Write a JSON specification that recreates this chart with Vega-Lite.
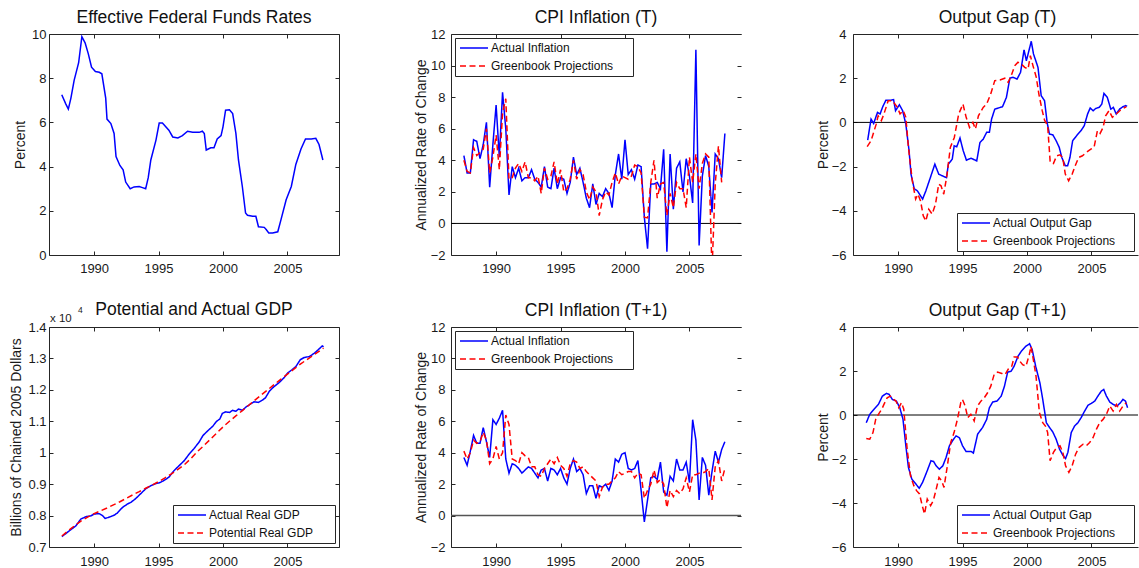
{
"$schema": "https://vega.github.io/schema/vega-lite/v6.json",
"background": "white",
"padding": {"left": 8, "top": 8, "right": 0, "bottom": 0},
"datasets": {
"ffr": [
{"year":1987.49,"value":7.25},{"year":1987.8,"value":6.84},{"year":1988.0,"value":6.6},{"year":1988.2,"value":7.1},{"year":1988.45,"value":7.9},{"year":1988.8,"value":8.7},{"year":1989.05,"value":9.88},{"year":1989.3,"value":9.6},{"year":1989.55,"value":9.1},{"year":1989.8,"value":8.5},{"year":1990.1,"value":8.3},{"year":1990.4,"value":8.27},{"year":1990.6,"value":8.2},{"year":1990.9,"value":7.1},{"year":1991.0,"value":6.15},{"year":1991.3,"value":5.95},{"year":1991.55,"value":5.5},{"year":1991.7,"value":4.45},{"year":1992.0,"value":4.05},{"year":1992.25,"value":3.85},{"year":1992.45,"value":3.3},{"year":1992.8,"value":3.0},{"year":1993.1,"value":3.08},{"year":1993.5,"value":3.1},{"year":1993.75,"value":3.05},{"year":1994.0,"value":3.0},{"year":1994.2,"value":3.5},{"year":1994.4,"value":4.3},{"year":1994.8,"value":5.2},{"year":1995.05,"value":5.97},{"year":1995.3,"value":5.97},{"year":1995.8,"value":5.65},{"year":1996.1,"value":5.34},{"year":1996.5,"value":5.3},{"year":1996.85,"value":5.4},{"year":1997.25,"value":5.6},{"year":1997.65,"value":5.55},{"year":1998.15,"value":5.55},{"year":1998.4,"value":5.6},{"year":1998.55,"value":5.5},{"year":1998.7,"value":4.75},{"year":1999.05,"value":4.85},{"year":1999.3,"value":4.85},{"year":1999.55,"value":5.25},{"year":1999.85,"value":5.4},{"year":2000.0,"value":5.8},{"year":2000.2,"value":6.55},{"year":2000.5,"value":6.57},{"year":2000.75,"value":6.4},{"year":2001.0,"value":5.5},{"year":2001.2,"value":4.3},{"year":2001.5,"value":3.1},{"year":2001.75,"value":1.9},{"year":2001.9,"value":1.8},{"year":2002.3,"value":1.75},{"year":2002.55,"value":1.75},{"year":2002.75,"value":1.28},{"year":2003.2,"value":1.25},{"year":2003.35,"value":1.15},{"year":2003.55,"value":1.0},{"year":2003.85,"value":1.0},{"year":2004.25,"value":1.05},{"year":2004.5,"value":1.6},{"year":2004.9,"value":2.5},{"year":2005.3,"value":3.1},{"year":2005.65,"value":4.1},{"year":2006.05,"value":4.8},{"year":2006.4,"value":5.25},{"year":2006.85,"value":5.25},{"year":2007.2,"value":5.28},{"year":2007.45,"value":5.0},{"year":2007.6,"value":4.65},{"year":2007.75,"value":4.3}
],
"gdp": [
{"series":"Actual Real GDP","year":1987.5,"value":0.733},{"series":"Actual Real GDP","year":1988.06,"value":0.751},{"series":"Actual Real GDP","year":1988.58,"value":0.767},{"series":"Actual Real GDP","year":1988.97,"value":0.789},{"series":"Actual Real GDP","year":1989.4,"value":0.797},{"series":"Actual Real GDP","year":1989.75,"value":0.799},{"series":"Actual Real GDP","year":1990.0,"value":0.805},{"series":"Actual Real GDP","year":1990.4,"value":0.806},{"series":"Actual Real GDP","year":1990.65,"value":0.8},{"series":"Actual Real GDP","year":1990.85,"value":0.791},{"series":"Actual Real GDP","year":1991.1,"value":0.794},{"series":"Actual Real GDP","year":1991.55,"value":0.801},{"series":"Actual Real GDP","year":1991.8,"value":0.808},{"series":"Actual Real GDP","year":1992.2,"value":0.826},{"series":"Actual Real GDP","year":1992.6,"value":0.837},{"series":"Actual Real GDP","year":1992.85,"value":0.842},{"series":"Actual Real GDP","year":1993.2,"value":0.853},{"series":"Actual Real GDP","year":1993.6,"value":0.869},{"series":"Actual Real GDP","year":1994.0,"value":0.885},{"series":"Actual Real GDP","year":1994.4,"value":0.895},{"series":"Actual Real GDP","year":1994.8,"value":0.902},{"series":"Actual Real GDP","year":1995.05,"value":0.904},{"series":"Actual Real GDP","year":1995.4,"value":0.911},{"series":"Actual Real GDP","year":1995.8,"value":0.922},{"series":"Actual Real GDP","year":1996.2,"value":0.943},{"series":"Actual Real GDP","year":1996.6,"value":0.959},{"series":"Actual Real GDP","year":1997.0,"value":0.975},{"series":"Actual Real GDP","year":1997.4,"value":0.997},{"series":"Actual Real GDP","year":1997.75,"value":1.013},{"series":"Actual Real GDP","year":1998.15,"value":1.034},{"series":"Actual Real GDP","year":1998.45,"value":1.055},{"series":"Actual Real GDP","year":1998.8,"value":1.069},{"series":"Actual Real GDP","year":1999.2,"value":1.084},{"series":"Actual Real GDP","year":1999.5,"value":1.1},{"series":"Actual Real GDP","year":1999.75,"value":1.107},{"series":"Actual Real GDP","year":1999.95,"value":1.125},{"series":"Actual Real GDP","year":2000.2,"value":1.13},{"series":"Actual Real GDP","year":2000.5,"value":1.128},{"series":"Actual Real GDP","year":2000.75,"value":1.135},{"series":"Actual Real GDP","year":2001.0,"value":1.132},{"series":"Actual Real GDP","year":2001.2,"value":1.139},{"series":"Actual Real GDP","year":2001.5,"value":1.135},{"series":"Actual Real GDP","year":2001.8,"value":1.146},{"series":"Actual Real GDP","year":2002.1,"value":1.154},{"series":"Actual Real GDP","year":2002.4,"value":1.162},{"series":"Actual Real GDP","year":2002.75,"value":1.16},{"series":"Actual Real GDP","year":2003.05,"value":1.167},{"series":"Actual Real GDP","year":2003.3,"value":1.175},{"series":"Actual Real GDP","year":2003.6,"value":1.196},{"series":"Actual Real GDP","year":2003.95,"value":1.21},{"series":"Actual Real GDP","year":2004.35,"value":1.223},{"series":"Actual Real GDP","year":2004.75,"value":1.239},{"series":"Actual Real GDP","year":2005.0,"value":1.253},{"series":"Actual Real GDP","year":2005.35,"value":1.264},{"series":"Actual Real GDP","year":2005.65,"value":1.274},{"series":"Actual Real GDP","year":2006.0,"value":1.296},{"series":"Actual Real GDP","year":2006.3,"value":1.303},{"series":"Actual Real GDP","year":2006.7,"value":1.306},{"series":"Actual Real GDP","year":2007.1,"value":1.317},{"series":"Actual Real GDP","year":2007.4,"value":1.328},{"series":"Actual Real GDP","year":2007.7,"value":1.34},{"series":"Actual Real GDP","year":2007.8,"value":1.337},
{"series":"Potential Real GDP","year":1987.5,"value":0.735},{"series":"Potential Real GDP","year":1988.0,"value":0.752},{"series":"Potential Real GDP","year":1988.5,"value":0.768},{"series":"Potential Real GDP","year":1989.0,"value":0.783},{"series":"Potential Real GDP","year":1989.5,"value":0.795},{"series":"Potential Real GDP","year":1990.0,"value":0.806},{"series":"Potential Real GDP","year":1990.5,"value":0.815},{"series":"Potential Real GDP","year":1991.0,"value":0.824},{"series":"Potential Real GDP","year":1991.5,"value":0.834},{"series":"Potential Real GDP","year":1992.0,"value":0.844},{"series":"Potential Real GDP","year":1992.5,"value":0.855},{"series":"Potential Real GDP","year":1993.0,"value":0.866},{"series":"Potential Real GDP","year":1993.5,"value":0.876},{"series":"Potential Real GDP","year":1994.0,"value":0.887},{"series":"Potential Real GDP","year":1994.5,"value":0.897},{"series":"Potential Real GDP","year":1995.0,"value":0.908},{"series":"Potential Real GDP","year":1995.5,"value":0.92},{"series":"Potential Real GDP","year":1996.0,"value":0.933},{"series":"Potential Real GDP","year":1996.5,"value":0.947},{"series":"Potential Real GDP","year":1997.0,"value":0.962},{"series":"Potential Real GDP","year":1997.5,"value":0.981},{"series":"Potential Real GDP","year":1998.0,"value":1.003},{"series":"Potential Real GDP","year":1998.5,"value":1.022},{"series":"Potential Real GDP","year":1999.0,"value":1.042},{"series":"Potential Real GDP","year":1999.5,"value":1.062},{"series":"Potential Real GDP","year":2000.0,"value":1.082},{"series":"Potential Real GDP","year":2000.5,"value":1.1},{"series":"Potential Real GDP","year":2001.0,"value":1.117},{"series":"Potential Real GDP","year":2001.5,"value":1.134},{"series":"Potential Real GDP","year":2002.0,"value":1.151},{"series":"Potential Real GDP","year":2002.5,"value":1.168},{"series":"Potential Real GDP","year":2003.0,"value":1.185},{"series":"Potential Real GDP","year":2003.5,"value":1.201},{"series":"Potential Real GDP","year":2004.0,"value":1.218},{"series":"Potential Real GDP","year":2004.5,"value":1.234},{"series":"Potential Real GDP","year":2005.0,"value":1.25},{"series":"Potential Real GDP","year":2005.5,"value":1.266},{"series":"Potential Real GDP","year":2006.0,"value":1.282},{"series":"Potential Real GDP","year":2006.5,"value":1.296},{"series":"Potential Real GDP","year":2007.0,"value":1.31},{"series":"Potential Real GDP","year":2007.5,"value":1.324},{"series":"Potential Real GDP","year":2007.8,"value":1.333}
],
"infT": [
{"series":"Actual Inflation","year":1987.5,"value":4.3},{"series":"Actual Inflation","year":1987.75,"value":3.2},{"series":"Actual Inflation","year":1988.0,"value":3.2},{"series":"Actual Inflation","year":1988.25,"value":5.3},{"series":"Actual Inflation","year":1988.5,"value":5.2},{"series":"Actual Inflation","year":1988.75,"value":4.1},{"series":"Actual Inflation","year":1989.0,"value":5.0},{"series":"Actual Inflation","year":1989.25,"value":6.4},{"series":"Actual Inflation","year":1989.5,"value":2.3},{"series":"Actual Inflation","year":1989.75,"value":5.0},{"series":"Actual Inflation","year":1990.0,"value":7.5},{"series":"Actual Inflation","year":1990.25,"value":4.2},{"series":"Actual Inflation","year":1990.5,"value":8.3},{"series":"Actual Inflation","year":1990.75,"value":6.0},{"series":"Actual Inflation","year":1991.0,"value":1.8},{"series":"Actual Inflation","year":1991.25,"value":3.6},{"series":"Actual Inflation","year":1991.5,"value":2.9},{"series":"Actual Inflation","year":1991.75,"value":3.5},{"series":"Actual Inflation","year":1992.0,"value":2.7},{"series":"Actual Inflation","year":1992.25,"value":2.9},{"series":"Actual Inflation","year":1992.5,"value":2.9},{"series":"Actual Inflation","year":1992.75,"value":3.4},{"series":"Actual Inflation","year":1993.0,"value":2.8},{"series":"Actual Inflation","year":1993.25,"value":2.6},{"series":"Actual Inflation","year":1993.5,"value":2.3},{"series":"Actual Inflation","year":1993.75,"value":3.6},{"series":"Actual Inflation","year":1994.0,"value":2.3},{"series":"Actual Inflation","year":1994.25,"value":2.2},{"series":"Actual Inflation","year":1994.5,"value":3.5},{"series":"Actual Inflation","year":1994.75,"value":2.2},{"series":"Actual Inflation","year":1995.0,"value":2.9},{"series":"Actual Inflation","year":1995.25,"value":2.8},{"series":"Actual Inflation","year":1995.5,"value":1.9},{"series":"Actual Inflation","year":1995.75,"value":2.6},{"series":"Actual Inflation","year":1996.0,"value":4.2},{"series":"Actual Inflation","year":1996.25,"value":3.1},{"series":"Actual Inflation","year":1996.5,"value":3.5},{"series":"Actual Inflation","year":1996.75,"value":2.6},{"series":"Actual Inflation","year":1997.0,"value":1.6},{"series":"Actual Inflation","year":1997.25,"value":1.0},{"series":"Actual Inflation","year":1997.5,"value":2.5},{"series":"Actual Inflation","year":1997.75,"value":1.2},{"series":"Actual Inflation","year":1998.0,"value":1.9},{"series":"Actual Inflation","year":1998.25,"value":1.7},{"series":"Actual Inflation","year":1998.5,"value":2.2},{"series":"Actual Inflation","year":1998.75,"value":1.9},{"series":"Actual Inflation","year":1999.0,"value":1.0},{"series":"Actual Inflation","year":1999.25,"value":3.1},{"series":"Actual Inflation","year":1999.5,"value":4.4},{"series":"Actual Inflation","year":1999.75,"value":2.8},{"series":"Actual Inflation","year":2000.0,"value":5.3},{"series":"Actual Inflation","year":2000.25,"value":3.1},{"series":"Actual Inflation","year":2000.5,"value":3.4},{"series":"Actual Inflation","year":2000.75,"value":2.8},{"series":"Actual Inflation","year":2001.0,"value":3.7},{"series":"Actual Inflation","year":2001.25,"value":3.6},{"series":"Actual Inflation","year":2001.5,"value":0.4},{"series":"Actual Inflation","year":2001.75,"value":-1.6},{"series":"Actual Inflation","year":2002.0,"value":2.5},{"series":"Actual Inflation","year":2002.25,"value":2.5},{"series":"Actual Inflation","year":2002.5,"value":2.6},{"series":"Actual Inflation","year":2002.75,"value":2.2},{"series":"Actual Inflation","year":2003.0,"value":4.7},{"series":"Actual Inflation","year":2003.25,"value":-1.8},{"series":"Actual Inflation","year":2003.5,"value":4.4},{"series":"Actual Inflation","year":2003.75,"value":0.9},{"series":"Actual Inflation","year":2004.0,"value":3.5},{"series":"Actual Inflation","year":2004.25,"value":3.9},{"series":"Actual Inflation","year":2004.5,"value":2.0},{"series":"Actual Inflation","year":2004.75,"value":4.1},{"series":"Actual Inflation","year":2005.0,"value":3.0},{"series":"Actual Inflation","year":2005.25,"value":1.3},{"series":"Actual Inflation","year":2005.5,"value":11.0},{"series":"Actual Inflation","year":2005.75,"value":-1.4},{"series":"Actual Inflation","year":2006.0,"value":3.0},{"series":"Actual Inflation","year":2006.25,"value":4.3},{"series":"Actual Inflation","year":2006.5,"value":3.6},{"series":"Actual Inflation","year":2006.75,"value":0.7},{"series":"Actual Inflation","year":2007.0,"value":4.4},{"series":"Actual Inflation","year":2007.25,"value":4.1},{"series":"Actual Inflation","year":2007.5,"value":2.9},{"series":"Actual Inflation","year":2007.75,"value":5.7},
{"series":"Greenbook Projections","year":1987.5,"value":4.0},{"series":"Greenbook Projections","year":1987.75,"value":3.3},{"series":"Greenbook Projections","year":1988.0,"value":3.2},{"series":"Greenbook Projections","year":1988.25,"value":4.8},{"series":"Greenbook Projections","year":1988.5,"value":4.3},{"series":"Greenbook Projections","year":1988.75,"value":4.5},{"series":"Greenbook Projections","year":1989.0,"value":4.7},{"series":"Greenbook Projections","year":1989.25,"value":6.0},{"series":"Greenbook Projections","year":1989.5,"value":3.2},{"series":"Greenbook Projections","year":1989.75,"value":4.2},{"series":"Greenbook Projections","year":1990.0,"value":5.6},{"series":"Greenbook Projections","year":1990.25,"value":3.4},{"series":"Greenbook Projections","year":1990.5,"value":7.0},{"series":"Greenbook Projections","year":1990.75,"value":7.9},{"series":"Greenbook Projections","year":1991.0,"value":2.8},{"series":"Greenbook Projections","year":1991.25,"value":2.9},{"series":"Greenbook Projections","year":1991.5,"value":3.5},{"series":"Greenbook Projections","year":1991.75,"value":3.8},{"series":"Greenbook Projections","year":1992.0,"value":3.3},{"series":"Greenbook Projections","year":1992.25,"value":3.9},{"series":"Greenbook Projections","year":1992.5,"value":2.9},{"series":"Greenbook Projections","year":1992.75,"value":2.9},{"series":"Greenbook Projections","year":1993.0,"value":2.7},{"series":"Greenbook Projections","year":1993.25,"value":3.0},{"series":"Greenbook Projections","year":1993.5,"value":1.9},{"series":"Greenbook Projections","year":1993.75,"value":3.5},{"series":"Greenbook Projections","year":1994.0,"value":2.8},{"series":"Greenbook Projections","year":1994.25,"value":3.0},{"series":"Greenbook Projections","year":1994.5,"value":3.9},{"series":"Greenbook Projections","year":1994.75,"value":2.5},{"series":"Greenbook Projections","year":1995.0,"value":3.4},{"series":"Greenbook Projections","year":1995.25,"value":2.0},{"series":"Greenbook Projections","year":1995.5,"value":2.2},{"series":"Greenbook Projections","year":1995.75,"value":2.8},{"series":"Greenbook Projections","year":1996.0,"value":4.0},{"series":"Greenbook Projections","year":1996.25,"value":2.8},{"series":"Greenbook Projections","year":1996.5,"value":3.4},{"series":"Greenbook Projections","year":1996.75,"value":3.1},{"series":"Greenbook Projections","year":1997.0,"value":2.0},{"series":"Greenbook Projections","year":1997.25,"value":1.5},{"series":"Greenbook Projections","year":1997.5,"value":2.3},{"series":"Greenbook Projections","year":1997.75,"value":2.0},{"series":"Greenbook Projections","year":1998.0,"value":0.5},{"series":"Greenbook Projections","year":1998.25,"value":1.5},{"series":"Greenbook Projections","year":1998.5,"value":2.0},{"series":"Greenbook Projections","year":1998.75,"value":1.8},{"series":"Greenbook Projections","year":1999.0,"value":2.6},{"series":"Greenbook Projections","year":1999.25,"value":3.2},{"series":"Greenbook Projections","year":1999.5,"value":2.5},{"series":"Greenbook Projections","year":1999.75,"value":3.0},{"series":"Greenbook Projections","year":2000.0,"value":2.9},{"series":"Greenbook Projections","year":2000.25,"value":2.8},{"series":"Greenbook Projections","year":2000.5,"value":3.0},{"series":"Greenbook Projections","year":2000.75,"value":3.7},{"series":"Greenbook Projections","year":2001.0,"value":3.6},{"series":"Greenbook Projections","year":2001.25,"value":3.2},{"series":"Greenbook Projections","year":2001.5,"value":0.4},{"series":"Greenbook Projections","year":2001.75,"value":0.35},{"series":"Greenbook Projections","year":2002.0,"value":2.6},{"series":"Greenbook Projections","year":2002.25,"value":4.0},{"series":"Greenbook Projections","year":2002.5,"value":1.6},{"series":"Greenbook Projections","year":2002.75,"value":2.5},{"series":"Greenbook Projections","year":2003.0,"value":2.6},{"series":"Greenbook Projections","year":2003.25,"value":0.5},{"series":"Greenbook Projections","year":2003.5,"value":1.9},{"series":"Greenbook Projections","year":2003.75,"value":1.0},{"series":"Greenbook Projections","year":2004.0,"value":2.6},{"series":"Greenbook Projections","year":2004.25,"value":2.2},{"series":"Greenbook Projections","year":2004.5,"value":2.2},{"series":"Greenbook Projections","year":2004.75,"value":1.0},{"series":"Greenbook Projections","year":2005.0,"value":4.2},{"series":"Greenbook Projections","year":2005.25,"value":2.6},{"series":"Greenbook Projections","year":2005.5,"value":4.4},{"series":"Greenbook Projections","year":2005.75,"value":2.2},{"series":"Greenbook Projections","year":2006.0,"value":3.8},{"series":"Greenbook Projections","year":2006.25,"value":4.4},{"series":"Greenbook Projections","year":2006.5,"value":4.2},{"series":"Greenbook Projections","year":2006.75,"value":-3.0},{"series":"Greenbook Projections","year":2007.0,"value":2.5},{"series":"Greenbook Projections","year":2007.25,"value":4.9},{"series":"Greenbook Projections","year":2007.5,"value":2.6}
],
"infT1": [
{"series":"Actual Inflation","year":1987.5,"value":3.7},{"series":"Actual Inflation","year":1987.75,"value":3.2},{"series":"Actual Inflation","year":1988.0,"value":4.1},{"series":"Actual Inflation","year":1988.25,"value":5.1},{"series":"Actual Inflation","year":1988.5,"value":4.6},{"series":"Actual Inflation","year":1988.75,"value":4.6},{"series":"Actual Inflation","year":1989.0,"value":5.6},{"series":"Actual Inflation","year":1989.25,"value":4.7},{"series":"Actual Inflation","year":1989.5,"value":3.7},{"series":"Actual Inflation","year":1989.75,"value":6.1},{"series":"Actual Inflation","year":1990.0,"value":5.8},{"series":"Actual Inflation","year":1990.25,"value":6.2},{"series":"Actual Inflation","year":1990.5,"value":6.7},{"series":"Actual Inflation","year":1990.75,"value":3.6},{"series":"Actual Inflation","year":1991.0,"value":2.7},{"series":"Actual Inflation","year":1991.25,"value":3.3},{"series":"Actual Inflation","year":1991.5,"value":3.2},{"series":"Actual Inflation","year":1991.75,"value":3.0},{"series":"Actual Inflation","year":1992.0,"value":2.7},{"series":"Actual Inflation","year":1992.25,"value":2.9},{"series":"Actual Inflation","year":1992.5,"value":3.1},{"series":"Actual Inflation","year":1992.75,"value":3.0},{"series":"Actual Inflation","year":1993.0,"value":2.7},{"series":"Actual Inflation","year":1993.25,"value":2.4},{"series":"Actual Inflation","year":1993.5,"value":2.9},{"series":"Actual Inflation","year":1993.75,"value":3.0},{"series":"Actual Inflation","year":1994.0,"value":2.2},{"series":"Actual Inflation","year":1994.25,"value":3.0},{"series":"Actual Inflation","year":1994.5,"value":2.9},{"series":"Actual Inflation","year":1994.75,"value":2.6},{"series":"Actual Inflation","year":1995.0,"value":3.0},{"series":"Actual Inflation","year":1995.25,"value":2.4},{"series":"Actual Inflation","year":1995.5,"value":2.0},{"series":"Actual Inflation","year":1995.75,"value":3.0},{"series":"Actual Inflation","year":1996.0,"value":3.6},{"series":"Actual Inflation","year":1996.25,"value":2.8},{"series":"Actual Inflation","year":1996.5,"value":3.0},{"series":"Actual Inflation","year":1996.75,"value":2.6},{"series":"Actual Inflation","year":1997.0,"value":1.4},{"series":"Actual Inflation","year":1997.25,"value":1.9},{"series":"Actual Inflation","year":1997.5,"value":1.9},{"series":"Actual Inflation","year":1997.75,"value":1.1},{"series":"Actual Inflation","year":1998.0,"value":1.9},{"series":"Actual Inflation","year":1998.25,"value":1.8},{"series":"Actual Inflation","year":1998.5,"value":2.0},{"series":"Actual Inflation","year":1998.75,"value":1.6},{"series":"Actual Inflation","year":1999.0,"value":2.2},{"series":"Actual Inflation","year":1999.25,"value":3.6},{"series":"Actual Inflation","year":1999.5,"value":3.4},{"series":"Actual Inflation","year":1999.75,"value":3.9},{"series":"Actual Inflation","year":2000.0,"value":4.0},{"series":"Actual Inflation","year":2000.25,"value":3.0},{"series":"Actual Inflation","year":2000.5,"value":2.9},{"series":"Actual Inflation","year":2000.75,"value":3.0},{"series":"Actual Inflation","year":2001.0,"value":3.5},{"series":"Actual Inflation","year":2001.25,"value":1.6},{"series":"Actual Inflation","year":2001.5,"value":-0.4},{"series":"Actual Inflation","year":2001.75,"value":1.0},{"series":"Actual Inflation","year":2002.0,"value":2.4},{"series":"Actual Inflation","year":2002.25,"value":2.5},{"series":"Actual Inflation","year":2002.5,"value":2.3},{"series":"Actual Inflation","year":2002.75,"value":3.4},{"series":"Actual Inflation","year":2003.0,"value":1.5},{"series":"Actual Inflation","year":2003.25,"value":1.3},{"series":"Actual Inflation","year":2003.5,"value":2.5},{"series":"Actual Inflation","year":2003.75,"value":2.2},{"series":"Actual Inflation","year":2004.0,"value":3.6},{"series":"Actual Inflation","year":2004.25,"value":2.9},{"series":"Actual Inflation","year":2004.5,"value":2.9},{"series":"Actual Inflation","year":2004.75,"value":3.4},{"series":"Actual Inflation","year":2005.0,"value":2.1},{"series":"Actual Inflation","year":2005.25,"value":6.1},{"series":"Actual Inflation","year":2005.5,"value":4.8},{"series":"Actual Inflation","year":2005.75,"value":1.0},{"series":"Actual Inflation","year":2006.0,"value":3.7},{"series":"Actual Inflation","year":2006.25,"value":3.2},{"series":"Actual Inflation","year":2006.5,"value":1.3},{"series":"Actual Inflation","year":2006.75,"value":2.8},{"series":"Actual Inflation","year":2007.0,"value":4.1},{"series":"Actual Inflation","year":2007.25,"value":3.4},{"series":"Actual Inflation","year":2007.5,"value":4.2},{"series":"Actual Inflation","year":2007.75,"value":4.7},
{"series":"Greenbook Projections","year":1987.5,"value":4.1},{"series":"Greenbook Projections","year":1987.75,"value":3.6},{"series":"Greenbook Projections","year":1988.0,"value":4.0},{"series":"Greenbook Projections","year":1988.25,"value":4.8},{"series":"Greenbook Projections","year":1988.5,"value":4.6},{"series":"Greenbook Projections","year":1988.75,"value":4.7},{"series":"Greenbook Projections","year":1989.0,"value":5.3},{"series":"Greenbook Projections","year":1989.25,"value":4.8},{"series":"Greenbook Projections","year":1989.5,"value":3.3},{"series":"Greenbook Projections","year":1989.75,"value":3.6},{"series":"Greenbook Projections","year":1990.0,"value":4.4},{"series":"Greenbook Projections","year":1990.25,"value":3.6},{"series":"Greenbook Projections","year":1990.5,"value":4.0},{"series":"Greenbook Projections","year":1990.75,"value":6.4},{"series":"Greenbook Projections","year":1991.0,"value":5.8},{"series":"Greenbook Projections","year":1991.25,"value":3.6},{"series":"Greenbook Projections","year":1991.5,"value":3.5},{"series":"Greenbook Projections","year":1991.75,"value":3.3},{"series":"Greenbook Projections","year":1992.0,"value":4.0},{"series":"Greenbook Projections","year":1992.25,"value":3.8},{"series":"Greenbook Projections","year":1992.5,"value":3.7},{"series":"Greenbook Projections","year":1992.75,"value":3.1},{"series":"Greenbook Projections","year":1993.0,"value":3.1},{"series":"Greenbook Projections","year":1993.25,"value":2.6},{"series":"Greenbook Projections","year":1993.5,"value":2.5},{"series":"Greenbook Projections","year":1993.75,"value":3.0},{"series":"Greenbook Projections","year":1994.0,"value":3.3},{"series":"Greenbook Projections","year":1994.25,"value":3.6},{"series":"Greenbook Projections","year":1994.5,"value":3.3},{"series":"Greenbook Projections","year":1994.75,"value":3.7},{"series":"Greenbook Projections","year":1995.0,"value":3.2},{"series":"Greenbook Projections","year":1995.25,"value":3.0},{"series":"Greenbook Projections","year":1995.5,"value":2.5},{"series":"Greenbook Projections","year":1995.75,"value":3.3},{"series":"Greenbook Projections","year":1996.0,"value":3.5},{"series":"Greenbook Projections","year":1996.25,"value":3.4},{"series":"Greenbook Projections","year":1996.5,"value":3.0},{"series":"Greenbook Projections","year":1996.75,"value":3.1},{"series":"Greenbook Projections","year":1997.0,"value":2.8},{"series":"Greenbook Projections","year":1997.25,"value":2.6},{"series":"Greenbook Projections","year":1997.5,"value":2.4},{"series":"Greenbook Projections","year":1997.75,"value":2.2},{"series":"Greenbook Projections","year":1998.0,"value":1.2},{"series":"Greenbook Projections","year":1998.25,"value":1.8},{"series":"Greenbook Projections","year":1998.5,"value":2.0},{"series":"Greenbook Projections","year":1998.75,"value":2.0},{"series":"Greenbook Projections","year":1999.0,"value":2.2},{"series":"Greenbook Projections","year":1999.25,"value":2.4},{"series":"Greenbook Projections","year":1999.5,"value":2.8},{"series":"Greenbook Projections","year":1999.75,"value":2.6},{"series":"Greenbook Projections","year":2000.0,"value":2.7},{"series":"Greenbook Projections","year":2000.25,"value":2.8},{"series":"Greenbook Projections","year":2000.5,"value":2.8},{"series":"Greenbook Projections","year":2000.75,"value":2.4},{"series":"Greenbook Projections","year":2001.0,"value":2.7},{"series":"Greenbook Projections","year":2001.25,"value":2.6},{"series":"Greenbook Projections","year":2001.5,"value":1.1},{"series":"Greenbook Projections","year":2001.75,"value":1.6},{"series":"Greenbook Projections","year":2002.0,"value":2.0},{"series":"Greenbook Projections","year":2002.25,"value":2.9},{"series":"Greenbook Projections","year":2002.5,"value":2.1},{"series":"Greenbook Projections","year":2002.75,"value":2.3},{"series":"Greenbook Projections","year":2003.0,"value":2.0},{"series":"Greenbook Projections","year":2003.25,"value":0.5},{"series":"Greenbook Projections","year":2003.5,"value":1.6},{"series":"Greenbook Projections","year":2003.75,"value":1.2},{"series":"Greenbook Projections","year":2004.0,"value":1.6},{"series":"Greenbook Projections","year":2004.25,"value":1.4},{"series":"Greenbook Projections","year":2004.5,"value":1.7},{"series":"Greenbook Projections","year":2004.75,"value":2.4},{"series":"Greenbook Projections","year":2005.0,"value":1.5},{"series":"Greenbook Projections","year":2005.25,"value":2.6},{"series":"Greenbook Projections","year":2005.5,"value":2.6},{"series":"Greenbook Projections","year":2005.75,"value":2.7},{"series":"Greenbook Projections","year":2006.0,"value":2.7},{"series":"Greenbook Projections","year":2006.25,"value":2.8},{"series":"Greenbook Projections","year":2006.5,"value":3.0},{"series":"Greenbook Projections","year":2006.75,"value":1.0},{"series":"Greenbook Projections","year":2007.0,"value":3.1},{"series":"Greenbook Projections","year":2007.25,"value":3.5},{"series":"Greenbook Projections","year":2007.5,"value":2.2},{"series":"Greenbook Projections","year":2007.75,"value":3.0}
],
"gapT": [
{"series":"Actual Output Gap","year":1987.64,"value":-0.8},{"series":"Actual Output Gap","year":1987.9,"value":0.15},{"series":"Actual Output Gap","year":1988.1,"value":-0.05},{"series":"Actual Output Gap","year":1988.4,"value":0.45},{"series":"Actual Output Gap","year":1988.6,"value":0.38},{"series":"Actual Output Gap","year":1988.8,"value":0.7},{"series":"Actual Output Gap","year":1989.05,"value":1.0},{"series":"Actual Output Gap","year":1989.4,"value":1.0},{"series":"Actual Output Gap","year":1989.65,"value":1.03},{"series":"Actual Output Gap","year":1989.8,"value":0.53},{"series":"Actual Output Gap","year":1990.1,"value":0.8},{"series":"Actual Output Gap","year":1990.35,"value":0.53},{"series":"Actual Output Gap","year":1990.6,"value":-0.08},{"series":"Actual Output Gap","year":1990.85,"value":-1.28},{"series":"Actual Output Gap","year":1991.0,"value":-2.34},{"series":"Actual Output Gap","year":1991.25,"value":-3.0},{"series":"Actual Output Gap","year":1991.5,"value":-3.1},{"series":"Actual Output Gap","year":1991.9,"value":-3.47},{"series":"Actual Output Gap","year":1992.15,"value":-3.1},{"series":"Actual Output Gap","year":1992.5,"value":-2.5},{"series":"Actual Output Gap","year":1992.85,"value":-1.89},{"series":"Actual Output Gap","year":1993.15,"value":-2.34},{"series":"Actual Output Gap","year":1993.55,"value":-2.45},{"series":"Actual Output Gap","year":1993.75,"value":-2.5},{"series":"Actual Output Gap","year":1993.9,"value":-1.89},{"series":"Actual Output Gap","year":1994.2,"value":-1.66},{"series":"Actual Output Gap","year":1994.35,"value":-1.06},{"series":"Actual Output Gap","year":1994.55,"value":-1.1},{"series":"Actual Output Gap","year":1994.8,"value":-0.71},{"series":"Actual Output Gap","year":1995.05,"value":-1.28},{"series":"Actual Output Gap","year":1995.3,"value":-1.71},{"series":"Actual Output Gap","year":1995.65,"value":-1.62},{"series":"Actual Output Gap","year":1996.1,"value":-1.74},{"series":"Actual Output Gap","year":1996.35,"value":-0.91},{"series":"Actual Output Gap","year":1996.6,"value":-0.76},{"series":"Actual Output Gap","year":1996.87,"value":-0.45},{"series":"Actual Output Gap","year":1997.08,"value":-0.45},{"series":"Actual Output Gap","year":1997.25,"value":0.15},{"series":"Actual Output Gap","year":1997.5,"value":0.6},{"series":"Actual Output Gap","year":1997.77,"value":0.65},{"series":"Actual Output Gap","year":1998.1,"value":0.71},{"series":"Actual Output Gap","year":1998.4,"value":1.13},{"series":"Actual Output Gap","year":1998.67,"value":2.0},{"series":"Actual Output Gap","year":1998.92,"value":2.04},{"series":"Actual Output Gap","year":1999.23,"value":1.96},{"series":"Actual Output Gap","year":1999.5,"value":2.27},{"series":"Actual Output Gap","year":1999.77,"value":3.28},{"series":"Actual Output Gap","year":1999.95,"value":2.79},{"series":"Actual Output Gap","year":2000.15,"value":3.25},{"series":"Actual Output Gap","year":2000.33,"value":3.67},{"series":"Actual Output Gap","year":2000.5,"value":3.1},{"series":"Actual Output Gap","year":2000.72,"value":2.72},{"series":"Actual Output Gap","year":2000.85,"value":2.49},{"series":"Actual Output Gap","year":2001.1,"value":1.21},{"series":"Actual Output Gap","year":2001.36,"value":0.98},{"series":"Actual Output Gap","year":2001.56,"value":0.0},{"series":"Actual Output Gap","year":2001.74,"value":-0.53},{"series":"Actual Output Gap","year":2002.0,"value":-0.56},{"series":"Actual Output Gap","year":2002.26,"value":-0.83},{"series":"Actual Output Gap","year":2002.5,"value":-1.13},{"series":"Actual Output Gap","year":2002.7,"value":-1.59},{"series":"Actual Output Gap","year":2002.97,"value":-1.96},{"series":"Actual Output Gap","year":2003.15,"value":-1.96},{"series":"Actual Output Gap","year":2003.33,"value":-1.59},{"series":"Actual Output Gap","year":2003.54,"value":-0.83},{"series":"Actual Output Gap","year":2003.85,"value":-0.6},{"series":"Actual Output Gap","year":2004.18,"value":-0.38},{"series":"Actual Output Gap","year":2004.44,"value":-0.15},{"series":"Actual Output Gap","year":2004.7,"value":0.38},{"series":"Actual Output Gap","year":2004.9,"value":0.65},{"series":"Actual Output Gap","year":2005.13,"value":0.53},{"series":"Actual Output Gap","year":2005.33,"value":0.63},{"series":"Actual Output Gap","year":2005.6,"value":0.68},{"series":"Actual Output Gap","year":2005.8,"value":0.83},{"series":"Actual Output Gap","year":2005.97,"value":1.31},{"series":"Actual Output Gap","year":2006.23,"value":1.13},{"series":"Actual Output Gap","year":2006.5,"value":0.6},{"series":"Actual Output Gap","year":2006.7,"value":0.68},{"series":"Actual Output Gap","year":2006.92,"value":0.38},{"series":"Actual Output Gap","year":2007.18,"value":0.6},{"series":"Actual Output Gap","year":2007.44,"value":0.71},{"series":"Actual Output Gap","year":2007.64,"value":0.76},{"series":"Actual Output Gap","year":2007.77,"value":0.73},
{"series":"Greenbook Projections","year":1987.6,"value":-1.1},{"series":"Greenbook Projections","year":1987.9,"value":-0.83},{"series":"Greenbook Projections","year":1988.3,"value":-0.08},{"series":"Greenbook Projections","year":1988.45,"value":0.3},{"series":"Greenbook Projections","year":1988.7,"value":0.08},{"series":"Greenbook Projections","year":1988.9,"value":0.38},{"series":"Greenbook Projections","year":1989.23,"value":0.98},{"series":"Greenbook Projections","year":1989.56,"value":0.98},{"series":"Greenbook Projections","year":1989.95,"value":0.68},{"series":"Greenbook Projections","year":1990.15,"value":0.38},{"series":"Greenbook Projections","year":1990.4,"value":0.53},{"series":"Greenbook Projections","year":1990.6,"value":0.23},{"series":"Greenbook Projections","year":1990.8,"value":-1.13},{"series":"Greenbook Projections","year":1991.1,"value":-2.64},{"series":"Greenbook Projections","year":1991.36,"value":-3.47},{"series":"Greenbook Projections","year":1991.54,"value":-3.25},{"series":"Greenbook Projections","year":1991.74,"value":-3.55},{"series":"Greenbook Projections","year":1991.95,"value":-4.23},{"series":"Greenbook Projections","year":1992.15,"value":-4.46},{"series":"Greenbook Projections","year":1992.38,"value":-3.93},{"series":"Greenbook Projections","year":1992.64,"value":-4.15},{"series":"Greenbook Projections","year":1992.9,"value":-3.7},{"series":"Greenbook Projections","year":1993.15,"value":-2.79},{"series":"Greenbook Projections","year":1993.33,"value":-2.87},{"series":"Greenbook Projections","year":1993.54,"value":-3.25},{"series":"Greenbook Projections","year":1993.8,"value":-2.34},{"series":"Greenbook Projections","year":1994.05,"value":-1.13},{"series":"Greenbook Projections","year":1994.36,"value":-0.68},{"series":"Greenbook Projections","year":1994.7,"value":0.38},{"series":"Greenbook Projections","year":1995.03,"value":0.83},{"series":"Greenbook Projections","year":1995.28,"value":0.23},{"series":"Greenbook Projections","year":1995.54,"value":-0.23},{"series":"Greenbook Projections","year":1995.8,"value":0.0},{"series":"Greenbook Projections","year":1996.0,"value":-0.3},{"series":"Greenbook Projections","year":1996.23,"value":0.3},{"series":"Greenbook Projections","year":1996.6,"value":0.68},{"series":"Greenbook Projections","year":1996.87,"value":0.83},{"series":"Greenbook Projections","year":1997.18,"value":1.28},{"series":"Greenbook Projections","year":1997.5,"value":1.89},{"series":"Greenbook Projections","year":1997.9,"value":1.92},{"series":"Greenbook Projections","year":1998.28,"value":2.0},{"series":"Greenbook Projections","year":1998.54,"value":1.81},{"series":"Greenbook Projections","year":1998.8,"value":2.16},{"series":"Greenbook Projections","year":1999.05,"value":2.57},{"series":"Greenbook Projections","year":1999.3,"value":2.72},{"series":"Greenbook Projections","year":1999.56,"value":2.64},{"series":"Greenbook Projections","year":1999.82,"value":2.49},{"series":"Greenbook Projections","year":2000.08,"value":2.42},{"series":"Greenbook Projections","year":2000.26,"value":3.02},{"series":"Greenbook Projections","year":2000.46,"value":2.57},{"series":"Greenbook Projections","year":2000.72,"value":2.04},{"series":"Greenbook Projections","year":2000.92,"value":1.28},{"series":"Greenbook Projections","year":2001.18,"value":0.53},{"series":"Greenbook Projections","year":2001.36,"value":0.1},{"series":"Greenbook Projections","year":2001.6,"value":-0.15},{"series":"Greenbook Projections","year":2001.8,"value":-1.81},{"series":"Greenbook Projections","year":2002.05,"value":-1.86},{"series":"Greenbook Projections","year":2002.3,"value":-1.51},{"series":"Greenbook Projections","year":2002.56,"value":-1.47},{"series":"Greenbook Projections","year":2002.77,"value":-1.59},{"series":"Greenbook Projections","year":2002.97,"value":-2.34},{"series":"Greenbook Projections","year":2003.23,"value":-2.64},{"series":"Greenbook Projections","year":2003.5,"value":-2.34},{"series":"Greenbook Projections","year":2003.74,"value":-1.96},{"series":"Greenbook Projections","year":2004.0,"value":-1.59},{"series":"Greenbook Projections","year":2004.3,"value":-1.51},{"series":"Greenbook Projections","year":2004.6,"value":-1.36},{"series":"Greenbook Projections","year":2004.95,"value":-1.21},{"series":"Greenbook Projections","year":2005.2,"value":-1.13},{"series":"Greenbook Projections","year":2005.46,"value":-0.38},{"series":"Greenbook Projections","year":2005.67,"value":-0.5},{"series":"Greenbook Projections","year":2005.9,"value":-0.23},{"series":"Greenbook Projections","year":2006.1,"value":0.3},{"series":"Greenbook Projections","year":2006.36,"value":0.53},{"series":"Greenbook Projections","year":2006.62,"value":0.23},{"series":"Greenbook Projections","year":2006.92,"value":0.38},{"series":"Greenbook Projections","year":2007.26,"value":0.56},{"series":"Greenbook Projections","year":2007.5,"value":0.65},{"series":"Greenbook Projections","year":2007.7,"value":0.71}
],
"gapT1": [
{"series":"Actual Output Gap","year":1987.53,"value":-0.35},{"series":"Actual Output Gap","year":1987.8,"value":0.03},{"series":"Actual Output Gap","year":1988.13,"value":0.26},{"series":"Actual Output Gap","year":1988.47,"value":0.48},{"series":"Actual Output Gap","year":1988.78,"value":0.86},{"series":"Actual Output Gap","year":1989.1,"value":0.98},{"series":"Actual Output Gap","year":1989.3,"value":0.94},{"series":"Actual Output Gap","year":1989.55,"value":0.71},{"series":"Actual Output Gap","year":1989.87,"value":0.63},{"series":"Actual Output Gap","year":1990.13,"value":0.33},{"series":"Actual Output Gap","year":1990.38,"value":-0.2},{"series":"Actual Output Gap","year":1990.6,"value":-1.4},{"series":"Actual Output Gap","year":1990.8,"value":-2.38},{"series":"Actual Output Gap","year":1991.06,"value":-2.91},{"series":"Actual Output Gap","year":1991.38,"value":-3.14},{"series":"Actual Output Gap","year":1991.64,"value":-3.33},{"series":"Actual Output Gap","year":1991.9,"value":-3.06},{"series":"Actual Output Gap","year":1992.26,"value":-2.53},{"series":"Actual Output Gap","year":1992.55,"value":-2.08},{"series":"Actual Output Gap","year":1992.75,"value":-2.11},{"series":"Actual Output Gap","year":1992.95,"value":-2.31},{"series":"Actual Output Gap","year":1993.2,"value":-2.46},{"series":"Actual Output Gap","year":1993.47,"value":-2.31},{"series":"Actual Output Gap","year":1993.72,"value":-1.93},{"series":"Actual Output Gap","year":1993.98,"value":-1.4},{"series":"Actual Output Gap","year":1994.3,"value":-1.1},{"series":"Actual Output Gap","year":1994.5,"value":-0.95},{"series":"Actual Output Gap","year":1994.75,"value":-1.03},{"series":"Actual Output Gap","year":1995.0,"value":-1.4},{"series":"Actual Output Gap","year":1995.27,"value":-1.66},{"series":"Actual Output Gap","year":1995.66,"value":-1.66},{"series":"Actual Output Gap","year":1995.84,"value":-1.73},{"series":"Actual Output Gap","year":1996.17,"value":-0.87},{"series":"Actual Output Gap","year":1996.55,"value":-0.57},{"series":"Actual Output Gap","year":1996.87,"value":-0.2},{"series":"Actual Output Gap","year":1997.08,"value":0.33},{"series":"Actual Output Gap","year":1997.34,"value":0.59},{"series":"Actual Output Gap","year":1997.66,"value":0.63},{"series":"Actual Output Gap","year":1998.0,"value":0.86},{"series":"Actual Output Gap","year":1998.25,"value":1.31},{"series":"Actual Output Gap","year":1998.5,"value":1.95},{"series":"Actual Output Gap","year":1998.77,"value":1.99},{"series":"Actual Output Gap","year":1999.0,"value":2.22},{"series":"Actual Output Gap","year":1999.3,"value":2.67},{"series":"Actual Output Gap","year":1999.56,"value":2.9},{"series":"Actual Output Gap","year":1999.9,"value":3.12},{"series":"Actual Output Gap","year":2000.2,"value":3.24},{"series":"Actual Output Gap","year":2000.4,"value":2.97},{"series":"Actual Output Gap","year":2000.67,"value":2.22},{"series":"Actual Output Gap","year":2001.0,"value":1.46},{"series":"Actual Output Gap","year":2001.22,"value":0.71},{"series":"Actual Output Gap","year":2001.5,"value":-0.35},{"series":"Actual Output Gap","year":2001.75,"value":-0.57},{"series":"Actual Output Gap","year":2002.0,"value":-0.77},{"series":"Actual Output Gap","year":2002.26,"value":-1.1},{"series":"Actual Output Gap","year":2002.52,"value":-1.55},{"series":"Actual Output Gap","year":2002.78,"value":-1.83},{"series":"Actual Output Gap","year":2002.99,"value":-1.98},{"series":"Actual Output Gap","year":2003.17,"value":-1.7},{"series":"Actual Output Gap","year":2003.43,"value":-0.8},{"series":"Actual Output Gap","year":2003.69,"value":-0.5},{"series":"Actual Output Gap","year":2003.95,"value":-0.35},{"series":"Actual Output Gap","year":2004.2,"value":-0.12},{"series":"Actual Output Gap","year":2004.47,"value":0.18},{"series":"Actual Output Gap","year":2004.73,"value":0.44},{"series":"Actual Output Gap","year":2004.99,"value":0.53},{"series":"Actual Output Gap","year":2005.25,"value":0.63},{"series":"Actual Output Gap","year":2005.5,"value":0.86},{"series":"Actual Output Gap","year":2005.77,"value":1.09},{"series":"Actual Output Gap","year":2005.95,"value":1.16},{"series":"Actual Output Gap","year":2006.16,"value":0.86},{"series":"Actual Output Gap","year":2006.42,"value":0.59},{"series":"Actual Output Gap","year":2006.68,"value":0.48},{"series":"Actual Output Gap","year":2006.99,"value":0.41},{"series":"Actual Output Gap","year":2007.25,"value":0.56},{"series":"Actual Output Gap","year":2007.45,"value":0.71},{"series":"Actual Output Gap","year":2007.64,"value":0.63},{"series":"Actual Output Gap","year":2007.8,"value":0.33},
{"series":"Greenbook Projections","year":1987.53,"value":-1.07},{"series":"Greenbook Projections","year":1987.8,"value":-1.1},{"series":"Greenbook Projections","year":1988.05,"value":-0.8},{"series":"Greenbook Projections","year":1988.26,"value":-0.2},{"series":"Greenbook Projections","year":1988.47,"value":0.03},{"series":"Greenbook Projections","year":1988.73,"value":0.26},{"series":"Greenbook Projections","year":1988.9,"value":0.48},{"series":"Greenbook Projections","year":1989.15,"value":0.78},{"series":"Greenbook Projections","year":1989.4,"value":0.86},{"series":"Greenbook Projections","year":1989.66,"value":0.71},{"series":"Greenbook Projections","year":1989.84,"value":0.63},{"series":"Greenbook Projections","year":1990.05,"value":0.33},{"series":"Greenbook Projections","year":1990.26,"value":0.56},{"series":"Greenbook Projections","year":1990.44,"value":0.26},{"series":"Greenbook Projections","year":1990.7,"value":-1.55},{"series":"Greenbook Projections","year":1990.96,"value":-2.76},{"series":"Greenbook Projections","year":1991.22,"value":-3.21},{"series":"Greenbook Projections","year":1991.43,"value":-3.44},{"series":"Greenbook Projections","year":1991.66,"value":-3.59},{"series":"Greenbook Projections","year":1991.87,"value":-4.12},{"series":"Greenbook Projections","year":1992.05,"value":-4.5},{"series":"Greenbook Projections","year":1992.26,"value":-3.82},{"series":"Greenbook Projections","year":1992.52,"value":-4.12},{"series":"Greenbook Projections","year":1992.73,"value":-3.89},{"series":"Greenbook Projections","year":1992.96,"value":-3.36},{"series":"Greenbook Projections","year":1993.17,"value":-2.84},{"series":"Greenbook Projections","year":1993.38,"value":-2.99},{"series":"Greenbook Projections","year":1993.56,"value":-3.29},{"series":"Greenbook Projections","year":1993.82,"value":-2.31},{"series":"Greenbook Projections","year":1994.08,"value":-1.25},{"series":"Greenbook Projections","year":1994.34,"value":-0.8},{"series":"Greenbook Projections","year":1994.6,"value":-0.2},{"series":"Greenbook Projections","year":1994.86,"value":0.56},{"series":"Greenbook Projections","year":1994.99,"value":0.71},{"series":"Greenbook Projections","year":1995.2,"value":0.41},{"series":"Greenbook Projections","year":1995.4,"value":-0.12},{"series":"Greenbook Projections","year":1995.64,"value":0.03},{"series":"Greenbook Projections","year":1995.9,"value":-0.27},{"series":"Greenbook Projections","year":1996.16,"value":0.41},{"series":"Greenbook Projections","year":1996.42,"value":0.63},{"series":"Greenbook Projections","year":1996.68,"value":0.78},{"series":"Greenbook Projections","year":1996.94,"value":1.01},{"series":"Greenbook Projections","year":1997.19,"value":1.31},{"series":"Greenbook Projections","year":1997.45,"value":1.84},{"series":"Greenbook Projections","year":1997.71,"value":1.95},{"series":"Greenbook Projections","year":1998.05,"value":1.89},{"series":"Greenbook Projections","year":1998.3,"value":1.84},{"series":"Greenbook Projections","year":1998.56,"value":2.1},{"series":"Greenbook Projections","year":1998.82,"value":2.22},{"series":"Greenbook Projections","year":1999.0,"value":2.64},{"series":"Greenbook Projections","year":1999.27,"value":2.64},{"series":"Greenbook Projections","year":1999.45,"value":2.44},{"series":"Greenbook Projections","year":1999.66,"value":2.29},{"series":"Greenbook Projections","year":1999.92,"value":2.22},{"series":"Greenbook Projections","year":2000.18,"value":2.75},{"series":"Greenbook Projections","year":2000.31,"value":3.12},{"series":"Greenbook Projections","year":2000.49,"value":2.52},{"series":"Greenbook Projections","year":2000.7,"value":1.76},{"series":"Greenbook Projections","year":2000.96,"value":0.11},{"series":"Greenbook Projections","year":2001.22,"value":-0.35},{"series":"Greenbook Projections","year":2001.43,"value":-0.5},{"series":"Greenbook Projections","year":2001.6,"value":-0.8},{"series":"Greenbook Projections","year":2001.79,"value":-2.08},{"series":"Greenbook Projections","year":2002.05,"value":-1.7},{"series":"Greenbook Projections","year":2002.3,"value":-1.48},{"series":"Greenbook Projections","year":2002.56,"value":-1.4},{"series":"Greenbook Projections","year":2002.78,"value":-1.7},{"series":"Greenbook Projections","year":2002.99,"value":-2.31},{"series":"Greenbook Projections","year":2003.25,"value":-2.61},{"series":"Greenbook Projections","year":2003.5,"value":-2.31},{"series":"Greenbook Projections","year":2003.77,"value":-1.78},{"series":"Greenbook Projections","year":2004.03,"value":-1.48},{"series":"Greenbook Projections","year":2004.34,"value":-1.33},{"series":"Greenbook Projections","year":2004.6,"value":-1.4},{"series":"Greenbook Projections","year":2004.86,"value":-1.25},{"series":"Greenbook Projections","year":2005.12,"value":-1.03},{"series":"Greenbook Projections","year":2005.38,"value":-0.65},{"series":"Greenbook Projections","year":2005.64,"value":-0.35},{"series":"Greenbook Projections","year":2005.9,"value":-0.2},{"series":"Greenbook Projections","year":2006.16,"value":0.03},{"series":"Greenbook Projections","year":2006.42,"value":0.41},{"series":"Greenbook Projections","year":2006.68,"value":0.18},{"series":"Greenbook Projections","year":2006.94,"value":0.48},{"series":"Greenbook Projections","year":2007.19,"value":0.18},{"series":"Greenbook Projections","year":2007.45,"value":0.41},{"series":"Greenbook Projections","year":2007.71,"value":0.56}
]
},
"columns": 3,
"spacing": {"row": 72, "column": 112},
"bounds": "flush",
"concat": [
{
"width": 290, "height": 221,
"title": {"text": "Effective Federal Funds Rates"},
"data": {"name": "ffr"},
"layer": [
{"mark": {"type": "line", "color": "#0000ff", "strokeWidth": 1.5, "clip": true},
 "encoding": {
  "x": {"field": "year", "type": "quantitative", "scale": {"domain": [1986.5, 2009], "nice": false, "zero": false}, "axis": {"orient": "bottom", "values": [1990, 1995, 2000, 2005], "format": "d", "title": null, "labelPadding": 11}},
  "y": {"field": "value", "type": "quantitative", "scale": {"domain": [0, 10], "nice": false, "zero": false}, "axis": {"orient": "left", "values": [0, 2, 4, 6, 8, 10], "title": "Percent", "titleX": -29, "titleBaseline": "middle", "labelPadding": 7}}
 }},
{"mark": {"type": "point", "opacity": 0},
 "encoding": {
  "x": {"field": "year", "type": "quantitative", "scale": {"domain": [1986.5, 2009], "nice": false, "zero": false}, "axis": {"orient": "top", "values": [1990, 1995, 2000, 2005], "labels": false, "title": null}},
  "y": {"field": "value", "type": "quantitative", "scale": {"domain": [0, 10], "nice": false, "zero": false}, "axis": {"orient": "right", "values": [0, 2, 4, 6, 8, 10], "labels": false, "title": null}}
 }}
],
"resolve": {"axis": {"x": "independent", "y": "independent"}}
},
{
"width": 290, "height": 221,
"title": {"text": "CPI Inflation (T)"},
"data": {"name": "infT"},
"layer": [
{"data": {"values": [{"z": 0}]},
 "mark": {"type": "rule", "color": "#000000", "strokeWidth": 1},
 "encoding": {"y": {"field": "z", "type": "quantitative", "scale": {"domain": [-2, 12], "nice": false, "zero": false}, "axis": null}}},
{"mark": {"type": "line", "strokeWidth": 1.5, "clip": true},
 "encoding": {
  "x": {"field": "year", "type": "quantitative", "scale": {"domain": [1986.5, 2009], "nice": false, "zero": false}, "axis": {"orient": "bottom", "values": [1990, 1995, 2000, 2005], "format": "d", "title": null, "labelPadding": 11}},
  "y": {"field": "value", "type": "quantitative", "scale": {"domain": [-2, 12], "nice": false, "zero": false}, "axis": {"orient": "left", "values": [-2, 0, 2, 4, 6, 8, 10, 12], "title": "Annualized Rate of Change", "titleX": -30, "titleBaseline": "middle", "labelPadding": 10}},
  "color": {"field": "series", "type": "nominal", "scale": {"domain": ["Actual Inflation", "Greenbook Projections"], "range": ["#0000ff", "#ff0000"]}, "legend": {"orient": "top-left", "offset": 4, "title": "\u00a0", "titleOrient": "right", "titlePadding": 16}},
  "strokeDash": {"field": "series", "type": "nominal", "scale": {"domain": ["Actual Inflation", "Greenbook Projections"], "range": [[1, 0], [6, 3.5]]}, "legend": {"orient": "top-left", "offset": 4, "title": "\u00a0", "titleOrient": "right", "titlePadding": 16}}
 }},
{"mark": {"type": "point", "opacity": 0},
 "encoding": {
  "x": {"field": "year", "type": "quantitative", "scale": {"domain": [1986.5, 2009], "nice": false, "zero": false}, "axis": {"orient": "top", "values": [1990, 1995, 2000, 2005], "labels": false, "title": null}},
  "y": {"field": "value", "type": "quantitative", "scale": {"domain": [-2, 12], "nice": false, "zero": false}, "axis": {"orient": "right", "values": [-2, 0, 2, 4, 6, 8, 10, 12], "labels": false, "title": null, "domain": false}}
 }}
],
"resolve": {"axis": {"x": "independent", "y": "independent"}}
},
{
"width": 285, "height": 221,
"title": {"text": "Output Gap (T)", "dx": 2},
"data": {"name": "gapT"},
"layer": [
{"data": {"values": [{"z": 0}]},
 "mark": {"type": "rule", "color": "#000000", "strokeWidth": 1},
 "encoding": {"y": {"field": "z", "type": "quantitative", "scale": {"domain": [-6, 4], "nice": false, "zero": false}, "axis": null}}},
{"mark": {"type": "line", "strokeWidth": 1.5, "clip": true},
 "encoding": {
  "x": {"field": "year", "type": "quantitative", "scale": {"domain": [1986.5, 2008.61], "nice": false, "zero": false}, "axis": {"orient": "bottom", "values": [1990, 1995, 2000, 2005], "format": "d", "title": null, "labelPadding": 11}},
  "y": {"field": "value", "type": "quantitative", "scale": {"domain": [-6, 4], "nice": false, "zero": false}, "axis": {"orient": "left", "values": [-6, -4, -2, 0, 2, 4], "title": "Percent", "titleX": -30, "titleBaseline": "middle", "labelPadding": 11}},
  "color": {"field": "series", "type": "nominal", "scale": {"domain": ["Actual Output Gap", "Greenbook Projections"], "range": ["#0000ff", "#ff0000"]}, "legend": {"orient": "bottom-right", "offset": 4, "title": "\u00a0", "titleOrient": "right", "titlePadding": 15}},
  "strokeDash": {"field": "series", "type": "nominal", "scale": {"domain": ["Actual Output Gap", "Greenbook Projections"], "range": [[1, 0], [6, 3.5]]}, "legend": {"orient": "bottom-right", "offset": 4, "title": "\u00a0", "titleOrient": "right", "titlePadding": 15}}
 }},
{"mark": {"type": "point", "opacity": 0},
 "encoding": {
  "x": {"field": "year", "type": "quantitative", "scale": {"domain": [1986.5, 2008.61], "nice": false, "zero": false}, "axis": {"orient": "top", "values": [1990, 1995, 2000, 2005], "labels": false, "title": null}},
  "y": {"field": "value", "type": "quantitative", "scale": {"domain": [-6, 4], "nice": false, "zero": false}, "axis": {"orient": "right", "values": [-6, -4, -2, 0, 2, 4], "labels": false, "title": null, "domain": false, "ticks": false}}
 }}
],
"resolve": {"axis": {"x": "independent", "y": "independent"}}
},
{
"width": 290, "height": 220,
"title": {"text": "Potential and Actual GDP", "offset": -12},
"data": {"name": "gdp"},
"layer": [
{"mark": {"type": "line", "strokeWidth": 1.5, "clip": true},
 "encoding": {
  "x": {"field": "year", "type": "quantitative", "scale": {"domain": [1986.5, 2009], "nice": false, "zero": false}, "axis": {"orient": "bottom", "values": [1990, 1995, 2000, 2005], "format": "d", "title": null, "labelPadding": 12}},
  "y": {"field": "value", "type": "quantitative", "scale": {"domain": [0.7, 1.4], "nice": false, "zero": false}, "axis": {"orient": "left", "values": [0.7, 0.8, 0.9, 1, 1.1, 1.2, 1.3, 1.4], "format": "~g", "title": "Billions of Chained 2005 Dollars", "titleX": -33, "titleBaseline": "middle", "labelPadding": 7}},
  "color": {"field": "series", "type": "nominal", "scale": {"domain": ["Actual Real GDP", "Potential Real GDP"], "range": ["#0000ff", "#ff0000"]}, "legend": {"orient": "bottom-right", "offset": 4, "title": "\u00a0", "titleOrient": "right", "titlePadding": 18}},
  "strokeDash": {"field": "series", "type": "nominal", "scale": {"domain": ["Actual Real GDP", "Potential Real GDP"], "range": [[1, 0], [6, 3.5]]}, "legend": {"orient": "bottom-right", "offset": 4, "title": "\u00a0", "titleOrient": "right", "titlePadding": 18}}
 }},
{"mark": {"type": "point", "opacity": 0},
 "encoding": {
  "x": {"field": "year", "type": "quantitative", "scale": {"domain": [1986.5, 2009], "nice": false, "zero": false}, "axis": {"orient": "top", "values": [1990, 1995, 2000, 2005], "labels": false, "title": null}},
  "y": {"field": "value", "type": "quantitative", "scale": {"domain": [0.7, 1.4], "nice": false, "zero": false}, "axis": {"orient": "right", "values": [0.7, 0.8, 0.9, 1, 1.1, 1.2, 1.3, 1.4], "labels": false, "title": null}}
 }},
{"data": {"values": [{"label": "x 10", "x": 1986.5, "y": 1.4}]},
 "mark": {"type": "text", "align": "left", "baseline": "alphabetic", "dx": 1, "dy": -5, "font": "Liberation Sans", "fontSize": 11.5, "color": "#1a1a1a"},
 "encoding": {
  "x": {"field": "x", "type": "quantitative", "scale": {"domain": [1986.5, 2009], "nice": false, "zero": false}, "axis": null},
  "y": {"field": "y", "type": "quantitative", "scale": {"domain": [0.7, 1.4], "nice": false, "zero": false}, "axis": null},
  "text": {"field": "label"}
 }},
{"data": {"values": [{"label": "4", "x": 1986.5, "y": 1.4}]},
 "mark": {"type": "text", "align": "left", "baseline": "alphabetic", "dx": 29, "dy": -14, "font": "Liberation Sans", "fontSize": 8.5, "color": "#1a1a1a"},
 "encoding": {
  "x": {"field": "x", "type": "quantitative", "scale": {"domain": [1986.5, 2009], "nice": false, "zero": false}, "axis": null},
  "y": {"field": "y", "type": "quantitative", "scale": {"domain": [0.7, 1.4], "nice": false, "zero": false}, "axis": null},
  "text": {"field": "label"}
 }}
],
"resolve": {"axis": {"x": "independent", "y": "independent"}}
},
{
"width": 290, "height": 220,
"title": {"text": "CPI Inflation (T+1)"},
"data": {"name": "infT1"},
"layer": [
{"data": {"values": [{"z": 0}]},
 "mark": {"type": "rule", "color": "#555555", "strokeWidth": 1.5},
 "encoding": {"y": {"field": "z", "type": "quantitative", "scale": {"domain": [-2, 12], "nice": false, "zero": false}, "axis": null}}},
{"mark": {"type": "line", "strokeWidth": 1.5, "clip": true},
 "encoding": {
  "x": {"field": "year", "type": "quantitative", "scale": {"domain": [1986.5, 2009], "nice": false, "zero": false}, "axis": {"orient": "bottom", "values": [1990, 1995, 2000, 2005], "format": "d", "title": null, "labelPadding": 12}},
  "y": {"field": "value", "type": "quantitative", "scale": {"domain": [-2, 12], "nice": false, "zero": false}, "axis": {"orient": "left", "values": [-2, 0, 2, 4, 6, 8, 10, 12], "title": "Annualized Rate of Change", "titleX": -30, "titleBaseline": "middle", "labelPadding": 10}},
  "color": {"field": "series", "type": "nominal", "scale": {"domain": ["Actual Inflation", "Greenbook Projections"], "range": ["#0000ff", "#ff0000"]}, "legend": {"orient": "top-left", "offset": 4, "title": "\u00a0", "titleOrient": "right", "titlePadding": 16}},
  "strokeDash": {"field": "series", "type": "nominal", "scale": {"domain": ["Actual Inflation", "Greenbook Projections"], "range": [[1, 0], [6, 3.5]]}, "legend": {"orient": "top-left", "offset": 4, "title": "\u00a0", "titleOrient": "right", "titlePadding": 16}}
 }},
{"mark": {"type": "point", "opacity": 0},
 "encoding": {
  "x": {"field": "year", "type": "quantitative", "scale": {"domain": [1986.5, 2009], "nice": false, "zero": false}, "axis": {"orient": "top", "values": [1990, 1995, 2000, 2005], "labels": false, "title": null}},
  "y": {"field": "value", "type": "quantitative", "scale": {"domain": [-2, 12], "nice": false, "zero": false}, "axis": {"orient": "right", "values": [-2, 0, 2, 4, 6, 8, 10, 12], "labels": false, "title": null, "domain": false}}
 }}
],
"resolve": {"axis": {"x": "independent", "y": "independent"}}
},
{
"width": 285, "height": 220,
"title": {"text": "Output Gap (T+1)", "dx": 2},
"data": {"name": "gapT1"},
"layer": [
{"data": {"values": [{"z": 0}]},
 "mark": {"type": "rule", "color": "#000000", "strokeWidth": 1},
 "encoding": {"y": {"field": "z", "type": "quantitative", "scale": {"domain": [-6, 4], "nice": false, "zero": false}, "axis": null}}},
{"mark": {"type": "line", "strokeWidth": 1.5, "clip": true},
 "encoding": {
  "x": {"field": "year", "type": "quantitative", "scale": {"domain": [1986.5, 2008.61], "nice": false, "zero": false}, "axis": {"orient": "bottom", "values": [1990, 1995, 2000, 2005], "format": "d", "title": null, "labelPadding": 12}},
  "y": {"field": "value", "type": "quantitative", "scale": {"domain": [-6, 4], "nice": false, "zero": false}, "axis": {"orient": "left", "values": [-6, -4, -2, 0, 2, 4], "title": "Percent", "titleX": -30, "titleBaseline": "middle", "labelPadding": 11}},
  "color": {"field": "series", "type": "nominal", "scale": {"domain": ["Actual Output Gap", "Greenbook Projections"], "range": ["#0000ff", "#ff0000"]}, "legend": {"orient": "bottom-right", "offset": 4, "title": "\u00a0", "titleOrient": "right", "titlePadding": 15}},
  "strokeDash": {"field": "series", "type": "nominal", "scale": {"domain": ["Actual Output Gap", "Greenbook Projections"], "range": [[1, 0], [6, 3.5]]}, "legend": {"orient": "bottom-right", "offset": 4, "title": "\u00a0", "titleOrient": "right", "titlePadding": 15}}
 }},
{"mark": {"type": "point", "opacity": 0},
 "encoding": {
  "x": {"field": "year", "type": "quantitative", "scale": {"domain": [1986.5, 2008.61], "nice": false, "zero": false}, "axis": {"orient": "top", "values": [1990, 1995, 2000, 2005], "labels": false, "title": null}},
  "y": {"field": "value", "type": "quantitative", "scale": {"domain": [-6, 4], "nice": false, "zero": false}, "axis": {"orient": "right", "values": [-6, -4, -2, 0, 2, 4], "labels": false, "title": null, "domain": false, "ticks": false}}
 }}
],
"resolve": {"axis": {"x": "independent", "y": "independent"}}
}
],
"resolve": {"scale": {"x": "independent", "y": "independent", "color": "independent", "strokeDash": "independent"}, "legend": {"color": "independent", "strokeDash": "independent"}},
"config": {
"view": {"stroke": null},
"axis": {"grid": false, "domainColor": "#262626", "domainWidth": 1, "tickColor": "#262626", "tickSize": -4, "tickWidth": 1, "labelFont": "Liberation Sans", "labelFontSize": 13, "labelColor": "#1a1a1a", "titleFont": "Liberation Sans", "titleFontSize": 14, "titleFontWeight": "normal", "titleColor": "#1a1a1a"},
"title": {"font": "Liberation Sans", "fontSize": 17.5, "fontWeight": "normal", "color": "#111111", "anchor": "middle", "frame": "group", "offset": 2, "baseline": "alphabetic"},
"legend": {"symbolType": "M-1,0L4.6,0", "symbolSize": 100, "symbolStrokeWidth": 1.5, "labelOffset": 20, "rowPadding": 6, "padding": 4, "strokeColor": "#262626", "fillColor": "white", "labelFont": "Liberation Sans", "labelFontSize": 12, "labelColor": "#111111", "labelLimit": 300, "cornerRadius": 0, "titleFont": "Liberation Sans", "titleFontSize": 12}
}
}
